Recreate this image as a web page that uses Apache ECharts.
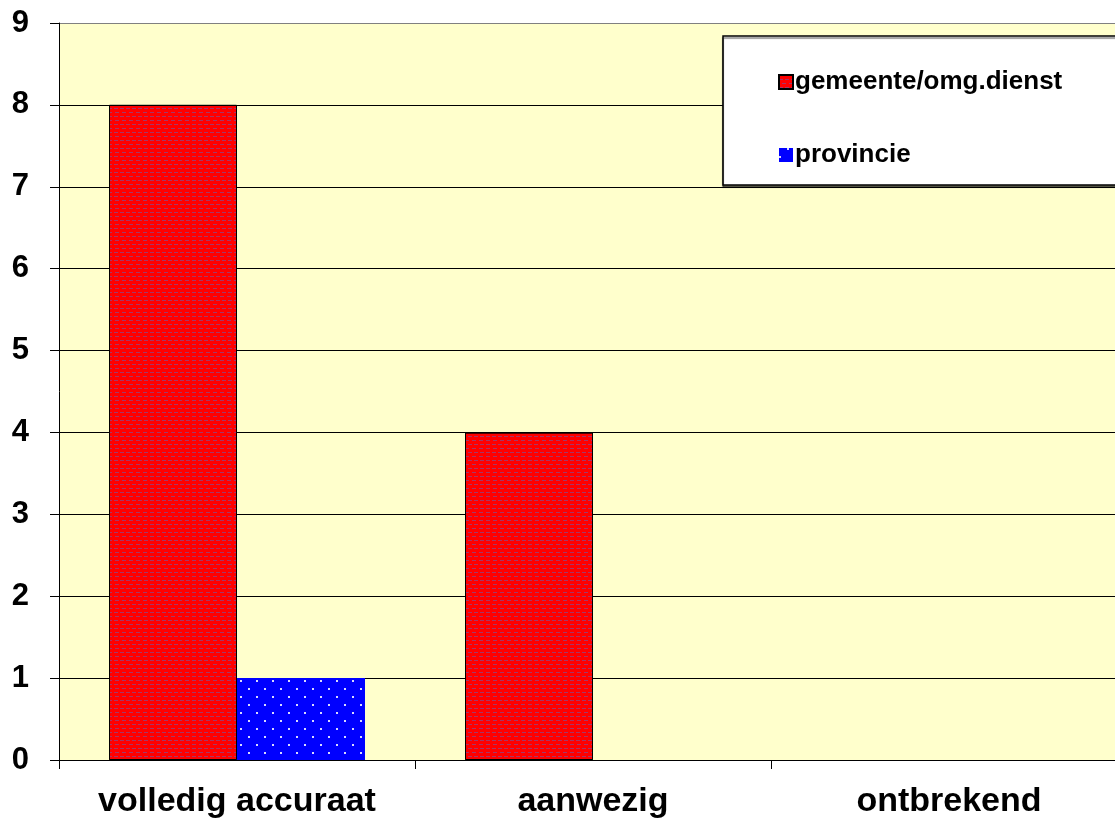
<!DOCTYPE html>
<html lang="nl">
<head>
    <meta charset="utf-8">
    <title>volledig accuraat / aanwezig / ontbrekend</title>
    <style>
        html, body { margin: 0; padding: 0; background: #fff; overflow: hidden; }
        /* plotgebied loopt iets voorbij de rechterrand */
        #chart { width: 1127px; height: 821px; }
    </style>
</head>
<body>
    <div id="chart"></div>
    <script src="https://cdn.jsdelivr.net/npm/echarts@6/dist/echarts.min.js"></script>
    <script type="text/javascript">
        var categories = ["volledig accuraat", "aanwezig", "ontbrekend"];
        var gemeente = [8, 4, 0];
        var provincie = [1, 0, 0];
        var yTicks = [0, 1, 2, 3, 4, 5, 6, 7, 8, 9];

        var font = "'Liberation Sans', Arial, sans-serif";
        // splitlijnen zwart, bovenste lijn grijs
        var splitColors = yTicks.map(function (v, i) { return i == yTicks.length - 1 ? "#808080" : "#000"; });
        // nul-waarden zonder rand tekenen
        function toItems(list) {
            return list.map(function (v) { return v === 0 ? { value: v, itemStyle: { borderWidth: 0 } } : v; });
        }

        var chart = echarts.init(document.getElementById("chart"));
        var option = {
            backgroundColor: "#fff",
            animation: false,
            grid: {
                left: 59, right: 0, top: 23, bottom: 61,
                show: true, backgroundColor: "#FFFFCC", borderWidth: 0
            },
            graphic: [{
                type: "rect", z: 5,
                shape: { x: 723, y: 36, width: 420, height: 149 },
                style: { fill: "#fff", stroke: "#000", lineWidth: 1.5, shadowColor: "rgba(0,0,0,0.5)", shadowOffsetY: 2, shadowBlur: 1 }
            }],
            legend: {
                z: 10,
                orient: "vertical",
                left: 773, top: 64,
                icon: "rect",
                itemWidth: 14, itemHeight: 14,
                itemGap: 47,
                textStyle: { fontFamily: font, fontWeight: "bold", fontSize: 26, color: "#000", padding: [0, 0, 0, -3] },
                data: ["gemeente/omg.dienst", "provincie"]
            },
            xAxis: {
                type: "category",
                data: categories,
                axisLine: { lineStyle: { color: "#000", width: 1 } },
                axisTick: { show: true, interval: 0, length: 9, lineStyle: { color: "#000" } },
                axisLabel: { interval: 0, fontFamily: font, fontWeight: "bold", fontSize: 34, color: "#000", margin: 25 }
            },
            yAxis: {
                type: "value",
                min: 0, max: 9, interval: 1,
                axisLine: { show: true, lineStyle: { color: "#000", width: 1 } },
                axisTick: { show: true, length: 9, lineStyle: { color: "#000" } },
                axisLabel: { fontFamily: font, fontWeight: "bold", fontSize: 31, color: "#000", margin: 30 },
                splitLine: { show: true, lineStyle: { color: splitColors, width: 1 } }
            },
            series: [
                {
                    name: "gemeente/omg.dienst",
                    type: "bar",
                    data: toItems(gemeente),
                    barWidth: 128,
                    barGap: "0%",
                    itemStyle: {
                        color: "#FF0000", borderColor: "#000", borderWidth: 1,
                        decal: { symbol: "rect", symbolSize: 1, color: "rgba(110,90,170,0.6)", dashArrayX: [[4, 2], [0, 3, 4, 0]], dashArrayY: [1, 3] }
                    }
                },
                {
                    name: "provincie",
                    type: "bar",
                    data: toItems(provincie),
                    barWidth: 128,
                    itemStyle: {
                        color: "#0000FF", borderColor: "#000", borderWidth: 0,
                        decal: { symbol: "rect", symbolSize: 1, color: "rgba(255,255,255,0.85)", dashArrayX: [[2, 14], [0, 8, 2, 6]], dashArrayY: [2, 6] }
                    }
                }
            ]
        };
        chart.setOption(option);
    </script>
</body>
</html>
